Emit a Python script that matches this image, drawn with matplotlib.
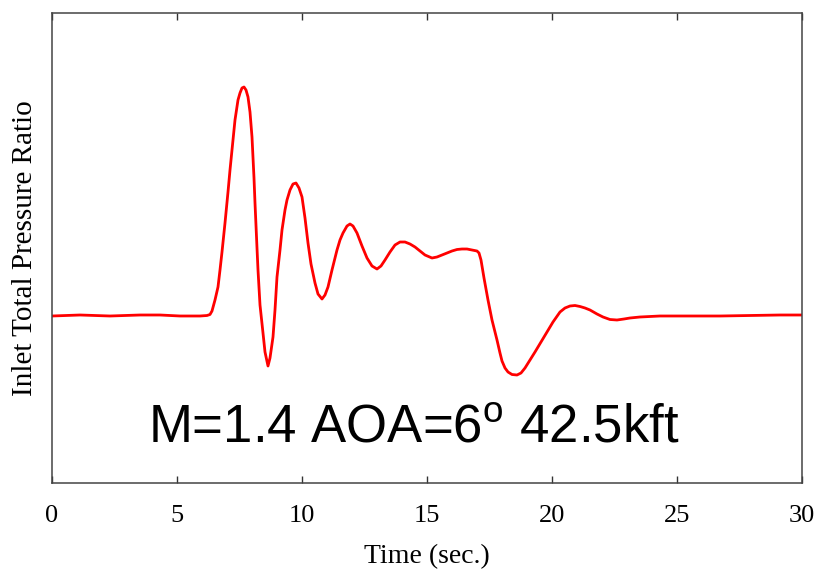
import numpy as np
import matplotlib
matplotlib.use("Agg")
import matplotlib.pyplot as plt

# Values
time_s = [0.0, 1.12, 2.32, 3.52, 4.32, 5.12, 5.92, 6.2, 6.32, 6.4, 6.52, 6.64, 6.72, 6.8,
          6.92, 7.04, 7.12, 7.24, 7.32, 7.44, 7.52, 7.6, 7.68, 7.76, 7.84, 7.92, 8.0, 8.08,
          8.12, 8.2, 8.24, 8.32, 8.44, 8.52, 8.64, 8.72, 8.84, 8.92, 9.0, 9.12, 9.2, 9.32,
          9.4, 9.52, 9.64, 9.76, 9.88, 10.0, 10.12, 10.24, 10.36, 10.52, 10.64, 10.8, 10.92,
          11.04, 11.2, 11.4, 11.52, 11.64, 11.8, 11.92, 12.04, 12.2, 12.4, 12.6, 12.8, 13.0,
          13.16, 13.32, 13.52, 13.72, 13.92, 14.12, 14.32, 14.52, 14.72, 14.92, 15.2, 15.4,
          15.6, 15.8, 16.0, 16.2, 16.4, 16.6, 16.8, 17.0, 17.08, 17.16, 17.28, 17.44, 17.6,
          17.8, 17.92, 18.0, 18.12, 18.24, 18.4, 18.6, 18.76, 18.92, 19.12, 19.32, 19.56,
          19.8, 20.04, 20.32, 20.52, 20.72, 20.92, 21.12, 21.32, 21.52, 21.8, 22.04, 22.32,
          22.6, 22.88, 23.12, 23.52, 24.32, 25.52, 26.72, 27.92, 29.12, 30.0]

pressure_ratio = [0.9998, 1.0, 0.9998, 1.0, 1.0, 0.9998, 0.9998, 0.9999, 1.0001, 1.0008,
                  1.003, 1.0056, 1.009, 1.0126, 1.0184, 1.0246, 1.029, 1.035, 1.039, 1.043,
                  1.0444, 1.0454, 1.0456, 1.045, 1.0436, 1.0406, 1.0356, 1.0274, 1.0224,
                  1.0134, 1.009, 1.002, 0.9964, 0.9926, 0.9898, 0.9914, 0.9956, 1.001,
                  1.0076, 1.013, 1.017, 1.021, 1.023, 1.025, 1.0262, 1.0264, 1.0254, 1.0236,
                  1.0194, 1.0144, 1.0102, 1.0064, 1.0042, 1.0032, 1.004, 1.0056, 1.009,
                  1.013, 1.015, 1.0164, 1.0178, 1.0182, 1.0178, 1.0164, 1.0138, 1.0114,
                  1.0098, 1.0092, 1.0098, 1.011, 1.0126, 1.014, 1.0146, 1.0146, 1.0142,
                  1.0136, 1.0128, 1.012, 1.0114, 1.0116, 1.012, 1.0124, 1.0128, 1.0131,
                  1.0132, 1.0132, 1.013, 1.0128, 1.0124, 1.011, 1.0074, 1.003, 0.999, 0.995,
                  0.9924, 0.9908, 0.9894, 0.9886, 0.9881, 0.988, 0.9884, 0.9894, 0.991,
                  0.9926, 0.9946, 0.9966, 0.9986, 1.0006, 1.0014, 1.0018, 1.0019, 1.0017,
                  1.0014, 1.001, 1.0002, 0.9996, 0.9991, 0.999, 0.9992, 0.9994, 0.9996,
                  0.9998, 0.9998, 0.9998, 0.9999, 1.0, 1.0]

x_ticks = [0, 5, 10, 15, 20, 25, 30]

plt.rcParams['font.family'] = ['Liberation Serif', 'DejaVu Serif']
plt.rcParams['mathtext.fontset'] = 'custom'
plt.rcParams['mathtext.rm'] = 'Liberation Sans'

fig = plt.figure(figsize=(8.27, 5.78), dpi=100)
ax = fig.add_axes([52/827, 1 - 483/578, 750/827, 470/578])

ax.plot(time_s, pressure_ratio, color='red', lw=2.0,
        solid_joinstyle='round', solid_capstyle='round')

ax.set_xlim(0, 30)
ax.set_ylim(0.9664, 1.0604)
ax.set_xticks(x_ticks)
ax.set_yticks([])
ax.tick_params(axis='x', direction='in', top=True, length=5, width=1,
               color='#333333', labelsize=19, pad=16)
for s in ax.spines.values():
    s.set_color('#444444')
    s.set_linewidth(1.1)

ax.set_xlabel('Time (sec.)', fontsize=20, labelpad=12)
ax.set_ylabel('Inlet Total Pressure Ratio', fontsize=21, labelpad=10)

ax.text(3.84, 0.087, r'M=1.4 AOA=6$^\mathregular{o}$ 42.5kft', transform=ax.get_xaxis_transform(),
        fontsize=38, family='Liberation Sans', ha='left', va='baseline')

fig.savefig('out.png', dpi=100)
